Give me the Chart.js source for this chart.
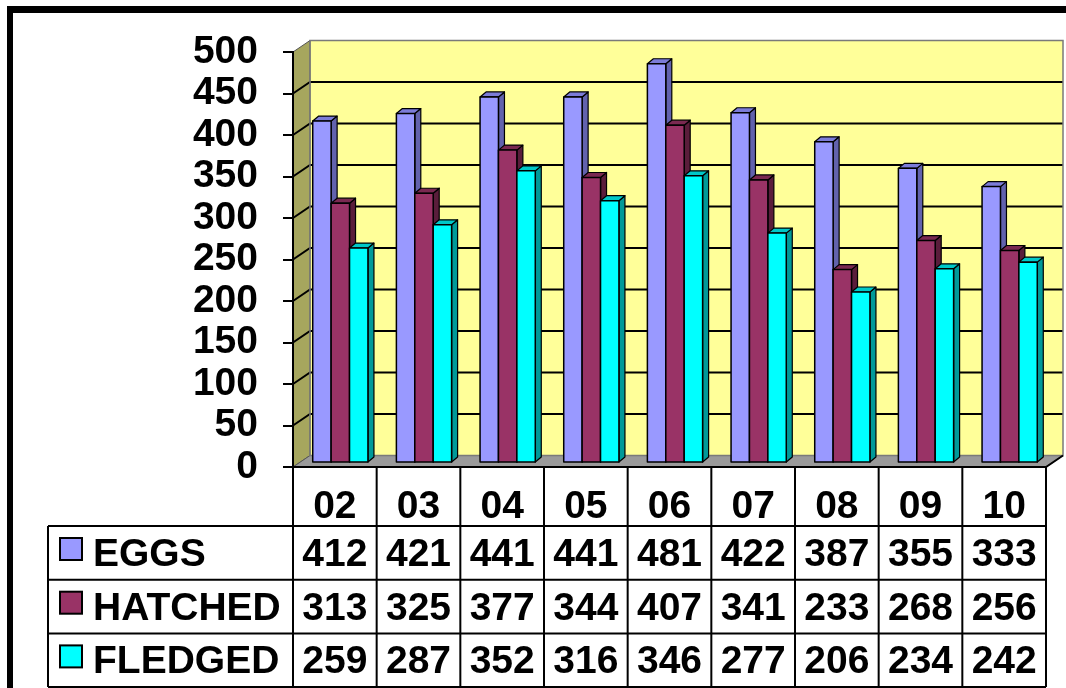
<!DOCTYPE html>
<html>
<head>
<meta charset="utf-8">
<script src="https://cdn.jsdelivr.net/npm/chart.js@4.4.1/dist/chart.umd.min.js"></script>
<style>
  body { margin: 0; background: #fff; }
</style>
</head>
<body>
<canvas id="chart" width="1066" height="688"></canvas>
<script>
// years shown in the table header
const years = ['02', '03', '04', '05', '06', '07', '08', '09', '10'];
// counts per year
const eggs = [412, 421, 441, 441, 481, 422, 387, 355, 333];
const hatched = [313, 325, 377, 344, 407, 341, 233, 268, 256];
const fledged = [259, 287, 352, 316, 346, 277, 206, 234, 242];
const seriesNames = ['EGGS', 'HATCHED', 'FLEDGED'];

const FONT = "'Liberation Sans', Arial, sans-serif";
const DEPTH_X = 17, DEPTH_Y = 11.5;   // depth of the walls
const BAR_DX = 6, BAR_DY = 5;         // depth of a bar
const SHIFT_X = 5.5, SHIFT_Y = -4;    // bars stand a bit behind the front plane

const faces = [
  { front: '#9999ff', side: '#6262ad', top: '#7c7cd8' },
  { front: '#993366', side: '#5a1d3b', top: '#7a2951' },
  { front: '#00ffff', side: '#009999', top: '#00c8c8' }
];

function poly(ctx, pts, fill, stroke, lw) {
  ctx.beginPath();
  ctx.moveTo(pts[0][0], pts[0][1]);
  for (let i = 1; i < pts.length; i++) ctx.lineTo(pts[i][0], pts[i][1]);
  ctx.closePath();
  if (fill) { ctx.fillStyle = fill; ctx.fill(); }
  if (stroke) { ctx.strokeStyle = stroke; ctx.lineWidth = lw || 1; ctx.stroke(); }
}

// walls, floor and grid of the 3D box
const wallsPlugin = {
  id: 'walls',
  beforeDraw(chart) {
    const { ctx, chartArea: a, scales: { y } } = chart;
    ctx.save();
    // outer frame (only top and left are in the picture)
    ctx.fillStyle = '#000';
    ctx.fillRect(7, 6, 1066 - 7, 7);
    ctx.fillRect(7, 6, 6, 688 - 6);

    const bl = a.left + DEPTH_X, bt = a.top - DEPTH_Y;
    const br = a.right + DEPTH_X, bb = a.bottom - DEPTH_Y;
    // back wall
    ctx.fillStyle = '#ffff99';
    ctx.fillRect(bl, bt, br - bl, bb - bt);
    // side wall
    poly(ctx, [[a.left, a.top], [bl, bt], [bl, bb], [a.left, a.bottom]], '#a6a65e', '#555', 1);
    // floor
    poly(ctx, [[a.left, a.bottom], [a.right, a.bottom], [br, bb], [bl, bb]], '#9a9a9a', '#555', 1);

    // grid lines
    ctx.strokeStyle = '#000';
    ctx.lineWidth = 2;
    y.ticks.forEach(t => {
      if (t.value === 0 || t.value === y.max) return;
      const yy = y.getPixelForValue(t.value);
      ctx.beginPath();
      ctx.moveTo(a.left, yy);
      ctx.lineTo(bl, yy - DEPTH_Y);
      ctx.lineTo(br, yy - DEPTH_Y);
      ctx.stroke();
    });
    ctx.strokeStyle = '#7a7a7a';
    ctx.lineWidth = 1.5;
    ctx.strokeRect(bl, bt, br - bl, bb - bt);
    ctx.restore();
  }
};

// 3D sides and tops for the bars
const barsPlugin = {
  id: 'bars3d',
  beforeDatasetsDraw(chart) {
    chart.ctx.save();
    chart.ctx.translate(SHIFT_X, SHIFT_Y);
  },
  afterDatasetsDraw(chart) {
    const ctx = chart.ctx;
    ctx.lineJoin = 'round';
    for (let d = 0; d < chart.data.datasets.length; d++) {
      const meta = chart.getDatasetMeta(d);
      const f = faces[d];
      meta.data.forEach(el => {
        const l = el.x - el.width / 2, r = el.x + el.width / 2;
        const t = el.y, b = el.base;
        poly(ctx, [[r, t], [r + BAR_DX, t - BAR_DY], [r + BAR_DX, b - BAR_DY], [r, b]], f.side, '#000', 1.2);
        poly(ctx, [[l, t], [r, t], [r + BAR_DX, t - BAR_DY], [l + BAR_DX, t - BAR_DY]], f.top, '#000', 1.2);
        poly(ctx, [[l, t], [r, t], [r, b], [l, b]], f.front, '#000', 1.5);
      });
    }
    ctx.restore();
  }
};

// data table under the chart
const tablePlugin = {
  id: 'table',
  afterDraw(chart) {
    const { ctx, chartArea: a, scales: { x } } = chart;
    const colW = (a.right - a.left) / years.length;
    const headTop = a.bottom, headBot = 526, rowH = 53.7;
    const tableLeft = 48;
    const rows = [eggs, hatched, fledged];
    const bottom = headBot + rowH * rows.length;

    ctx.save();
    ctx.strokeStyle = '#000';
    ctx.lineWidth = 2;
    ctx.beginPath();
    ctx.moveTo(a.left, headTop);
    ctx.lineTo(a.right, headTop);
    ctx.lineTo(a.right + DEPTH_X, headTop - DEPTH_Y);
    for (let k = 0; k <= years.length; k++) {
      const xx = a.left + k * colW;
      ctx.moveTo(xx, headTop);
      ctx.lineTo(xx, bottom);
    }
    for (let r = 0; r <= rows.length; r++) {
      const yy = headBot + r * rowH;
      ctx.moveTo(tableLeft, yy);
      ctx.lineTo(a.right, yy);
    }
    ctx.moveTo(tableLeft, headBot);
    ctx.lineTo(tableLeft, bottom);
    ctx.stroke();

    ctx.fillStyle = '#000';
    ctx.font = 'bold 39px ' + FONT;
    ctx.textBaseline = 'alphabetic';
    ctx.textAlign = 'center';
    years.forEach((yr, i) => ctx.fillText(yr, x.getPixelForValue(i), headTop + 51));

    rows.forEach((vals, r) => {
      const top = headBot + r * rowH;
      ctx.textAlign = 'center';
      ctx.fillStyle = '#000';
      vals.forEach((v, i) => ctx.fillText(String(v), x.getPixelForValue(i), top + 40));
      // legend key
      ctx.fillStyle = faces[r].front;
      ctx.fillRect(60, top + 12, 22, 22);
      ctx.lineWidth = 2;
      ctx.strokeRect(60, top + 12, 22, 22);
      ctx.fillStyle = '#000';
      ctx.textAlign = 'left';
      ctx.fillText(seriesNames[r], 93, top + 40);
    });
    ctx.restore();
  }
};

const ctx = document.getElementById('chart').getContext('2d');
new Chart(ctx, {
  type: 'bar',
  data: {
    labels: years,
    datasets: [
      { label: seriesNames[0], data: eggs, backgroundColor: faces[0].front },
      { label: seriesNames[1], data: hatched, backgroundColor: faces[1].front },
      { label: seriesNames[2], data: fledged, backgroundColor: faces[2].front }
    ].map(ds => Object.assign(ds, { borderColor: '#000', borderWidth: 1, clip: false }))
  },
  options: {
    responsive: false,
    devicePixelRatio: 1,
    animation: false,
    layout: { padding: { left: 20, top: 52, right: 20, bottom: 221 } },
    categoryPercentage: 0.66,
    barPercentage: 1,
    plugins: { legend: { display: false }, tooltip: { enabled: false } },
    scales: {
      x: { display: false },
      y: {
        min: 0,
        max: 500,
        ticks: {
          stepSize: 50, autoSkip: false, color: '#000', padding: 25,
          font: { family: FONT, size: 39, weight: 'bold' }
        },
        grid: { drawOnChartArea: false, drawTicks: true, tickLength: 10, color: '#000', lineWidth: 2 },
        border: { display: true, color: '#000', width: 2 },
        afterFit(scale) { scale.width = 273; }
      }
    }
  },
  plugins: [wallsPlugin, barsPlugin, tablePlugin]
});
</script>
</body>
</html>
